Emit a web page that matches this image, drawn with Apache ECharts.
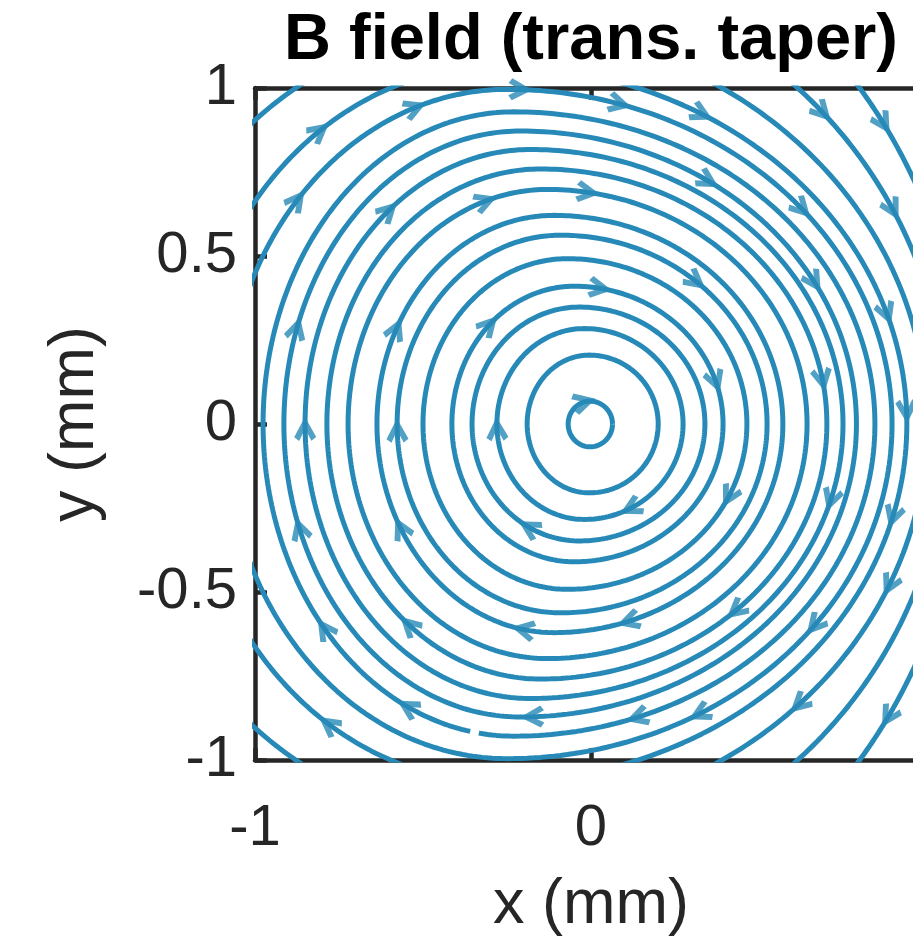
<!DOCTYPE html>
<html>
<head>
<meta charset="utf-8">
<script src="https://cdn.jsdelivr.net/npm/echarts@6/dist/echarts.min.js"></script>
<style>
  html, body { margin: 0; padding: 0; overflow: hidden; background: #fff; }
  #chart { width: 1182px; height: 942px; }
</style>
</head>
<body>
<div id="chart"></div>
<script>
// streamlines, inner to outer: x where each crosses y=0 (left / right),
// x of the top point and its height (mm)
const lineLeft  = [-0.068, -0.19, -0.28, -0.354, -0.414, -0.5, -0.577, -0.637, -0.723, -0.786, -0.851, -0.914, -0.976, -1.09, -1.2, -1.39, -1.6, -1.8]
const lineRight = [0.064, 0.2, 0.274, 0.339, 0.393, 0.464, 0.524, 0.571, 0.643, 0.702, 0.75, 0.79, 0.845, 0.896, 0.94, 1.0, 1.06, 1.12]
const linePeakX = [-0.003, -0.005, -0.02, -0.035, -0.05, -0.07, -0.09, -0.11, -0.13, -0.15, -0.18, -0.21, -0.23, -0.25, -0.28, -0.3, -0.32, -0.34]
const linePeakY = [0.068, 0.205, 0.284, 0.348, 0.41, 0.492, 0.562, 0.621, 0.698, 0.759, 0.817, 0.872, 0.929, 0.996, 1.065, 1.18, 1.36, 1.6]
// one streamline is broken near this point
const lineGaps = [[12, -0.345, -0.914]]

// arrow heads (mm)
const arrowX = [-0.827, -0.896, -0.530, -0.220, -0.619, -0.321, -0.012, -0.887, -0.589, -0.321, -0.024,
  0.080, 0.330, 0.682, 0.890, 0.333, 0.622, 0.929, 0.315, 0.652, 0.896, 0.027, 0.375, 0.690, 0.949,
  -0.857, -0.577, -0.292, -0.887, -0.577, -0.190, -0.815, -0.548, -0.202, -0.548, -0.182, -0.807, 0.125,
  0.116, 0.414, 0.711, 0.911, 0.911, 0.414, 0.652, 0.116, 0.315, 0.613, 0.920]
const arrowY = [0.896, 0.6875, 0.955, 0.985, 0.643, 0.673, 0.682, 0.286, 0.286, 0.310, 0.080,
  0.940, 0.914, 0.929, 0.914, 0.711, 0.622, 0.667, 0.420, 0.420, 0.330, 0.408, 0.131, 0.131, 0.033,
  -0.018, -0.018, -0.018, -0.315, -0.315, -0.315, -0.622, -0.613, -0.604, -0.860, -0.860, -0.920, -0.857,
  -0.25, -0.220, -0.220, -0.286, -0.503, -0.545, -0.583, -0.583, -0.842, -0.830, -0.881]

const blue = '#2789b7'
const ink = '#262626'
const font = '"Liberation Sans", Arial, Helvetica, sans-serif'
const steps = 360

function halfWidth(i, c) {
  return c >= 0 ? lineRight[i] - linePeakX[i] : linePeakX[i] - lineLeft[i]
}

function linePoint(i, t) {
  let c = Math.cos(t)
  return [linePeakX[i] + halfWidth(i, c) * c, linePeakY[i] * Math.sin(t)]
}

let lineData = []
for (let i = 0; i < lineLeft.length; i++) {
  let pts = []
  for (let k = 0; k <= steps; k++) {
    pts.push(linePoint(i, k / steps * 2 * Math.PI))
  }
  lineData.push(pts)
}

lineGaps.forEach(g => {
  let pts = lineData[g[0]]
  let best = 0, bestD = Infinity
  pts.forEach((p, k) => {
    let d = (p[0] - g[1]) ** 2 + (p[1] - g[2]) ** 2
    if (d < bestD) { bestD = d; best = k }
  })
  pts[best] = [null, null]
})

// snap every arrow to the nearest streamline, point it clockwise
let arrows = []
for (let a = 0; a < arrowX.length; a++) {
  let bi = 0, bk = 0, bestD = Infinity
  for (let i = 0; i < lineLeft.length; i++) {
    for (let k = 0; k < steps; k++) {
      let p = linePoint(i, k / steps * 2 * Math.PI)
      let d = (p[0] - arrowX[a]) ** 2 + (p[1] - arrowY[a]) ** 2
      if (d < bestD) { bestD = d; bi = i; bk = k }
    }
  }
  let t = bk / steps * 2 * Math.PI
  let p = linePoint(bi, t)
  let dx = halfWidth(bi, Math.cos(t)) * Math.sin(t)
  let dy = -linePeakY[bi] * Math.cos(t)
  let ang = Math.atan2(dy, dx) * 180 / Math.PI
  arrows.push({ value: p, symbolRotate: ang - 90 })
}

let series = lineData.map(pts => ({
  type: 'line',
  data: pts,
  showSymbol: false,
  clip: true,
  connectNulls: false,
  lineStyle: { color: blue, width: 5 },
  silent: true,
  z: 2
}))
series.push({
  type: 'scatter',
  data: arrows,
  symbol: 'path://M0,0 L9,17 L5,20 L0,10 L-5,20 L-9,17 Z',
  symbolSize: [22, 24],
  itemStyle: { color: blue },
  clip: true,
  silent: true,
  z: 3
})

function frameAxis(pos, interval, extra) {
  return Object.assign({
    type: 'value',
    min: -1,
    max: 1,
    interval: interval,
    position: pos,
    axisLine: { show: true, onZero: false, lineStyle: { color: ink, width: 4.5 } },
    axisTick: { show: true, inside: true, length: 12, lineStyle: { color: ink, width: 4.5 } },
    axisLabel: { show: false },
    splitLine: { show: false }
  }, extra || {})
}

var myChart = echarts.init(document.getElementById('chart'))
myChart.setOption({
  animation: false,
  backgroundColor: '#fff',
  title: {
    text: 'B field (trans. taper)',
    left: 'center',
    top: 4,
    textStyle: { fontSize: 65, fontWeight: 'bold', color: '#000', fontFamily: font }
  },
  grid: { left: 255, top: 88, width: 672, height: 672 },
  xAxis: [
    frameAxis('bottom', 1, {
      name: 'x (mm)',
      nameLocation: 'middle',
      nameGap: 114,
      nameTextStyle: { fontSize: 63, color: ink, fontFamily: font },
      axisLabel: { show: true, fontSize: 58, color: ink, margin: 40, fontFamily: font }
    }),
    frameAxis('top', 1)
  ],
  yAxis: [
    frameAxis('left', 0.5, {
      name: 'y (mm)',
      nameLocation: 'middle',
      nameGap: 148,
      nameTextStyle: { fontSize: 63, color: ink, fontFamily: font },
      axisLabel: { show: true, fontSize: 58, color: ink, margin: 18, fontFamily: font }
    }),
    frameAxis('right', 0.5)
  ],
  series: series
})
</script>
</body>
</html>
